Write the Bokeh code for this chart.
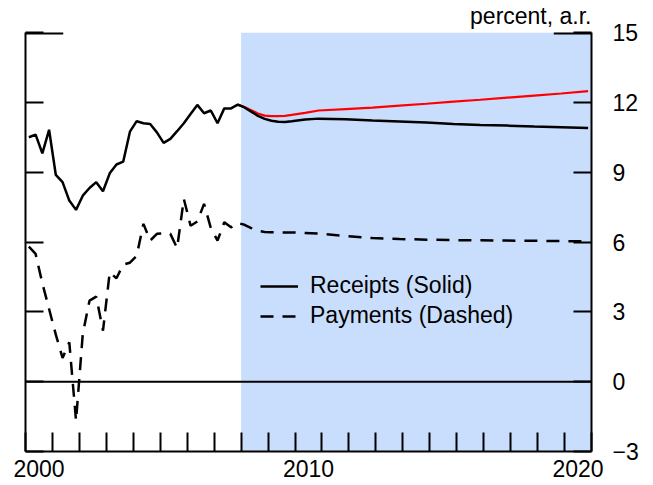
from bokeh.plotting import figure
from bokeh.models import (Range1d, LinearAxis, FixedTicker, BoxAnnotation, Span,
                          Legend, LegendItem, Title)
from bokeh.embed import file_html
from bokeh.resources import INLINE

# ---------------- data ----------------
hist_years = [2000.125 + 0.25 * k for k in range(32)]   # quarterly, 2000Q1..2007Q4
receipts_hist = [10.50, 10.61, 9.81, 10.82, 8.88, 8.57, 7.78, 7.38,
                 7.99, 8.32, 8.57, 8.18, 8.95, 9.33, 9.45, 10.74,
                 11.19, 11.10, 11.07, 10.71, 10.26, 10.43, 10.76, 11.10,
                 11.50, 11.89, 11.53, 11.65, 11.10, 11.74, 11.74, 11.90]
payments_hist = [5.80, 5.49, 4.23, 3.12, 2.02, 1.02, 1.69, -1.68,
                 2.05, 3.48, 3.65, 2.19, 4.70, 4.44, 5.03, 5.11,
                 5.41, 6.78, 6.06, 6.35, 6.37, 6.35, 5.74, 7.85,
                 6.70, 6.88, 7.64, 6.60, 6.06, 6.85, 6.63, 6.82]

fc_years = [2008.125, 2008.375, 2008.625, 2008.875, 2009.125, 2009.375, 2009.625,
            2009.875, 2010.375, 2010.875, 2011.875, 2012.875, 2013.875, 2014.875,
            2015.875, 2016.875, 2017.875, 2018.875, 2019.875, 2020.875]
receipts_fc = [11.78, 11.60, 11.42, 11.29, 11.21, 11.17, 11.16,
               11.19, 11.26, 11.30, 11.27, 11.22, 11.18, 11.13,
               11.07, 11.03, 11.00, 10.96, 10.93, 10.90]
receipts_alt_fc = [11.80, 11.66, 11.52, 11.43, 11.41, 11.41, 11.42,
                   11.46, 11.55, 11.65, 11.71, 11.77, 11.86, 11.94,
                   12.03, 12.11, 12.20, 12.29, 12.38, 12.48]
payments_fc = [6.74, 6.60, 6.48, 6.43, 6.42, 6.42, 6.41,
               6.41, 6.39, 6.36, 6.26, 6.17, 6.13, 6.10,
               6.08, 6.07, 6.06, 6.05, 6.04, 6.03]

forecast_start = 2008.0
x_start, x_end = 2000, 2021
y_start, y_end = -3, 15
y_ticks = [-3, 0, 3, 6, 9, 12, 15]
x_label_pos = [2000.5, 2010.5, 2020.5]
x_labels = ["2000", "2010", "2020"]
year_ticks = list(range(2000, 2022))
legend_labels = ["Receipts (Solid)", "Payments (Dashed)"]
unit_label = "percent, a.r."

FONT = "Liberation Sans"
FS = "23px"

# ---------------- figure ----------------
p = figure(width=651, height=485, output_backend="svg", toolbar_location=None,
           x_range=Range1d(x_start, x_end), y_range=Range1d(y_start, y_end),
           min_border_left=25, min_border_right=60, min_border_top=32,
           min_border_bottom=34)
p.outline_line_color = None
p.grid.visible = False
p.background_fill_color = "white"
p.border_fill_color = "white"

# unit label above the right axis
p.add_layout(Title(text=unit_label, align="right", vertical_align="top",
                   text_font=FONT, text_font_size=FS,
                   text_font_style="normal", text_color="black", standoff=4,
                   offset=0), "above")

# forecast shading
p.add_layout(BoxAnnotation(left=forecast_start, fill_color="#c9defc", fill_alpha=1.0,
                           line_color=None, level="underlay"))

# lines
rx = [hist_years[-1]] + fc_years
red = p.line(rx, [receipts_hist[-1]] + receipts_alt_fc, line_color="#ff0000", line_width=2.2)
rec = p.line(hist_years + fc_years, receipts_hist + receipts_fc, line_color="black",
             line_width=2.5)
pay = p.line(hist_years + fc_years, payments_hist + payments_fc, line_color="black",
             line_width=2.5, line_dash="13 9")

# zero line
p.add_layout(Span(location=0, dimension="width", line_color="black", line_width=2))

# long ticks at top value on both sides
top_tick_len = 1.4
p.segment(x0=[x_start, x_end - top_tick_len], y0=[y_end, y_end],
          x1=[x_start + top_tick_len, x_end], y1=[y_end, y_end],
          line_color="black", line_width=4)

# bottom axis
xa = p.xaxis[0]
xa.ticker = FixedTicker(ticks=x_label_pos, minor_ticks=year_ticks)
xa.major_label_overrides = {k: v for k, v in zip(x_label_pos, x_labels)}
xa.major_tick_in = 0
xa.major_tick_out = 0
xa.minor_tick_in = 19
xa.minor_tick_out = 0
xa.minor_tick_line_width = 2
xa.minor_tick_line_color = "black"
xa.axis_line_width = 2
xa.axis_line_color = "black"
xa.major_label_standoff = 8
xa.major_label_text_font = FONT
xa.major_label_text_font_size = FS
xa.major_label_text_color = "black"

# left axis (ticks only, drawn as minor ticks so no labels exist)
ya = p.yaxis[0]
ya.ticker = FixedTicker(ticks=[], minor_ticks=y_ticks)
ya.major_tick_in = 0
ya.major_tick_out = 0
ya.minor_tick_in = 18
ya.minor_tick_out = 0
ya.minor_tick_line_width = 2
ya.minor_tick_line_color = "black"
ya.axis_line_width = 2
ya.axis_line_color = "black"
ya.major_label_standoff = 0

# right axis
ra = LinearAxis(ticker=FixedTicker(ticks=y_ticks))
ra.major_tick_in = 18
ra.major_tick_out = 0
ra.minor_tick_in = 0
ra.minor_tick_out = 0
ra.major_tick_line_width = 2
ra.axis_line_width = 2
ra.axis_line_color = "black"
ra.major_label_standoff = 21
ra.major_label_text_font = FONT
ra.major_label_text_font_size = FS
ra.major_label_text_color = "black"
p.add_layout(ra, "right")

# legend
legend = Legend(items=[LegendItem(label=legend_labels[0], renderers=[rec]),
                       LegendItem(label=legend_labels[1], renderers=[pay])],
                location=(235, 122), orientation="vertical",
                label_text_font=FONT, label_text_font_size=FS,
                label_text_color="black",
                glyph_width=38, glyph_height=26, label_height=26,
                label_standoff=12, spacing=3, padding=0, margin=0,
                border_line_color=None, background_fill_alpha=0)
p.add_layout(legend)

open("out.html", "w").write(file_html(p, INLINE))
